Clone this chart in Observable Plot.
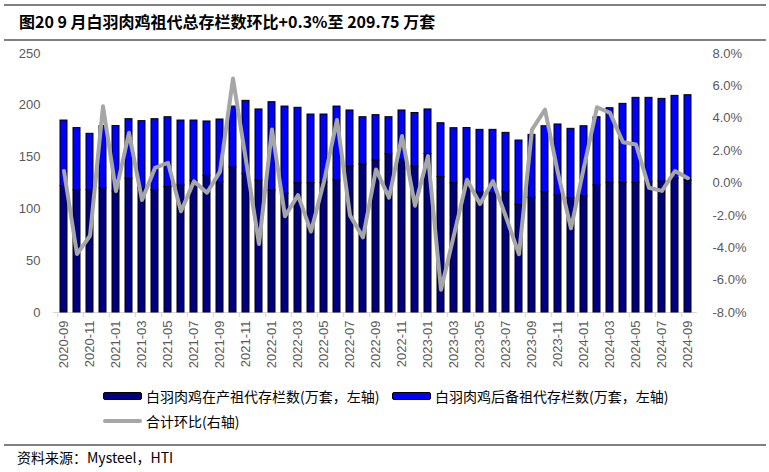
<!DOCTYPE html>
<html><head><meta charset="utf-8">
<script src="https://cdn.jsdelivr.net/npm/d3@7"></script>
<script src="https://cdn.jsdelivr.net/npm/@observablehq/plot@0.6"></script>
<style>
body{margin:0;background:#fff;}
#wrap{position:relative;width:769px;height:472px;overflow:hidden;font-family:"Noto Sans CJK SC","Noto Sans",sans-serif;background:#fff;}
.hr{position:absolute;left:4px;width:762px;height:2px;background:#808080;}
#title{position:absolute;left:19px;top:9px;font-size:16px;font-weight:bold;line-height:24px;color:#000;white-space:nowrap;}
#chart{position:absolute;left:0;top:45px;}
.leg{position:absolute;font-size:14px;line-height:18px;color:#000;white-space:nowrap;display:flex;align-items:center;}
.sw{display:inline-block;width:37px;height:6px;border:1px solid #000;border-radius:2px;margin-right:4px;}
.swl{display:inline-block;width:39px;height:4px;background:#a6a6a6;border-radius:2px;margin-right:4px;}
#src{position:absolute;left:17px;top:447px;font-size:14px;line-height:20px;color:#000;white-space:nowrap;}
</style></head>
<body>
<div id="wrap">
  <div class="hr" style="top:4px"></div>
  <div id="title">图20 9 月白羽肉鸡祖代总存栏数环比+0.3%至 209.75 万套</div>
  <div class="hr" style="top:39px"></div>
  <div id="chart"></div>
  <div class="leg" style="left:103px;top:387px"><span class="sw" style="background:#000080"></span>白羽肉鸡在产祖代存栏数(万套，左轴)</div>
  <div class="leg" style="left:392px;top:387px"><span class="sw" style="background:#0000ff"></span>白羽肉鸡后备祖代存栏数(万套，左轴)</div>
  <div class="leg" style="left:103px;top:412px"><span class="swl"></span>合计环比(右轴)</div>
  <div class="hr" style="top:444px"></div>
  <div id="src">资料来源：Mysteel，HTI</div>
</div>
<script>
const months = [
  "2020-09","2020-10","2020-11","2020-12","2021-01","2021-02","2021-03","2021-04","2021-05","2021-06",
  "2021-07","2021-08","2021-09","2021-10","2021-11","2021-12","2022-01","2022-02","2022-03","2022-04",
  "2022-05","2022-06","2022-07","2022-08","2022-09","2022-10","2022-11","2022-12","2023-01","2023-02",
  "2023-03","2023-04","2023-05","2023-06","2023-07","2023-08","2023-09","2023-10","2023-11","2023-12",
  "2024-01","2024-02","2024-03","2024-04","2024-05","2024-06","2024-07","2024-08","2024-09"
];
// 白羽肉鸡在产祖代存栏数（万套）
const inProduction = [
  122,118,118,120,117,129,119.4,118,121,122.6,
  127,132,125.8,140,133.9,127.4,117.8,114.6,124.8,124.8,
  125,127.6,140.8,142.9,146.7,152.6,147.4,140.8,153,130.8,
  124.8,120,116,115,116,104,110.7,116,113,110.3,
  112.2,122.6,125.2,125.2,125.2,125.8,126.5,129.1,127.4
];
// 白羽肉鸡后备祖代存栏数（万套）
const reserve = [
  63.3,60,54.5,60,63,57.6,65.3,68.6,67.5,62.7,
  58.3,52.4,60.5,58.8,70.4,68.6,85.2,84.2,72.8,66.3,
  66.1,71.2,54.2,45.6,43.8,35.9,47.6,51.8,43,51.9,
  53.1,58.1,60.3,61.3,57.4,62,60.8,63.8,68.5,67,
  67.6,65.9,72,76.2,82,81.4,79.7,80,82.35
];
// 合计环比（%）
const momPct = [
  0.74,-4.39,-3.26,4.74,-0.5,3.1,-1.05,0.93,1.25,-1.75,
  0.1,-0.6,0.7,6.45,1.4,-3.77,3.3,-2.05,-0.75,-3.0,
  0.1,3.9,-2.0,-3.36,0.84,-0.9,2.9,-1.4,1.66,-6.6,
  -3.2,0.2,-1.3,0.12,-2.1,-4.4,3.3,4.53,0.6,-2.8,
  1.0,4.68,4.33,2.52,2.38,-0.29,-0.49,0.74,0.3
];
const labelMonths = months.filter((d, i) => i % 2 === 0);
const leftTicks = [0, 50, 100, 150, 200, 250];
const rightTicks = [-8, -6, -4, -2, 0, 2, 4, 6, 8];

const W = 769, H = 340, ml = 53, mr = 72, mt = 8, mb = 73;
const toLeft = p => (p + 8) / 16 * 250;
const data = months.map((m, i) => ({m, a: inProduction[i], b: inProduction[i] + reserve[i], p: momPct[i]}));
const step = (W - ml - mr) / months.length;
const rightLabel = new Map(rightTicks.map(p => [toLeft(p), p.toFixed(1) + "%"]));

const chart = Plot.plot({
  width: W, height: H,
  marginLeft: ml, marginRight: mr, marginTop: mt, marginBottom: mb,
  style: "font-family:'Liberation Sans',Arial,sans-serif;font-size:13px;color:#595959;background:#fff;",
  x: {type: "band", domain: months, paddingInner: 0.47, paddingOuter: 0.235, axis: null, label: null},
  y: {domain: [0, 250], axis: null, label: null},
  marks: [
    Plot.ruleY([0], {stroke: "#d9d9d9", strokeWidth: 1}),
    Plot.ruleX(labelMonths, {x: d => d, y1: 0, y2: 0, insetBottom: -5, dx: -step / 2, stroke: "#d9d9d9"}),
    Plot.barY(data, {x: "m", y1: 0, y2: "a", fill: "#000080", stroke: "#000", strokeWidth: 1}),
    Plot.barY(data, {x: "m", y1: "a", y2: "b", fill: "#0000ff", stroke: "#000", strokeWidth: 1}),
    Plot.line(data, {x: "m", y: d => toLeft(d.p), stroke: "#a6a6a6", strokeWidth: 4, strokeLinejoin: "round", strokeLinecap: "round"}),
    Plot.axisY(leftTicks, {anchor: "left", tickSize: 0, tickPadding: 13, label: null}),
    Plot.axisY(rightTicks.map(toLeft), {anchor: "right", tickSize: 0, tickPadding: 15, tickFormat: v => rightLabel.get(v), label: null}),
    Plot.axisX(labelMonths, {anchor: "bottom", tickSize: 0, tickPadding: 8, tickRotate: -90, label: null})
  ]
});
document.getElementById("chart").appendChild(chart);
</script>
</body></html>
